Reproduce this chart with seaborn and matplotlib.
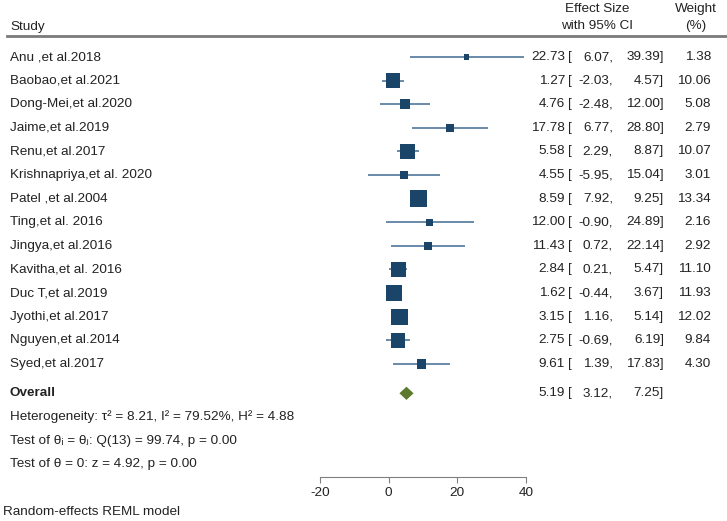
import numpy as np
import seaborn as sns
import pandas as pd
from matplotlib import pyplot as plt
from matplotlib import transforms

studies = ['Anu ,et al.2018', 'Baobao,et al.2021', 'Dong-Mei,et al.2020', 'Jaime,et al.2019',
           'Renu,et al.2017', 'Krishnapriya,et al. 2020', 'Patel ,et al.2004', 'Ting,et al. 2016',
           'Jingya,et al.2016', 'Kavitha,et al. 2016', 'Duc T,et al.2019', 'Jyothi,et al.2017',
           'Nguyen,et al.2014', 'Syed,et al.2017']
effect = [22.73, 1.27, 4.76, 17.78, 5.58, 4.55, 8.59, 12.00, 11.43, 2.84, 1.62, 3.15, 2.75, 9.61]
lower = [6.07, -2.03, -2.48, 6.77, 2.29, -5.95, 7.92, -0.90, 0.72, 0.21, -0.44, 1.16, -0.69, 1.39]
upper = [39.39, 4.57, 12.00, 28.80, 8.87, 15.04, 9.25, 24.89, 22.14, 5.47, 3.67, 5.14, 6.19, 17.83]
weight = [1.38, 10.06, 5.08, 2.79, 10.07, 3.01, 13.34, 2.16, 2.92, 11.10, 11.93, 12.02, 9.84, 4.30]
overall = [5.19, 3.12, 7.25]
xticks = [-20, 0, 20, 40]
stats_lines = ['Heterogeneity: \u03c4\u00b2 = 8.21, I\u00b2 = 79.52%, H\u00b2 = 4.88',
               'Test of \u03b8\u1d62 = \u03b8\u2c7c: Q(13) = 99.74, p = 0.00',
               'Test of \u03b8 = 0: z = 4.92, p = 0.00']
footnote = 'Random-effects REML model'

W, H = 727, 521
SQ = '#1b4469'
CI = '#6a8aa8'
TXT = '#222222'

plt.rcParams['font.family'] = ['Liberation Sans', 'DejaVu Sans']
plt.rcParams['font.size'] = 9.7
plt.rcParams['axes.unicode_minus'] = False

df = pd.DataFrame({'study': studies, 'es': effect, 'lo': lower, 'hi': upper, 'w': weight})
df['row'] = np.arange(len(df))

fig = plt.figure(figsize=(W / 100, H / 100), dpi=100)
ax = fig.add_axes([0, 0, 1, 1])
ax.patch.set_alpha(0)

# pixel layout: -20 -> 320px, 40 -> 526px ; row 0 at 57px, 23.6px per row
upp = 60 / 206.
ax.set_xlim(-20 - 320 * upp, 40 + (W - 526) * upp)
rs = 23.6
ax.set_ylim((H - 57) / rs, -57 / rs)

ax.hlines(df['row'], df['lo'], df['hi'], color=CI, lw=1.4, zorder=1)
sns.scatterplot(data=df, x='es', y='row', size='w', sizes=(0, 150), size_norm=(0, 13.34),
                marker='s', color=SQ, edgecolor=SQ, linewidth=0, legend=False, ax=ax, zorder=2)

orow = 14.25
ax.fill([overall[1], overall[0], overall[2], overall[0]],
        [orow, orow - 0.28, orow, orow + 0.28], color='#5b7a2f', lw=0, zorder=2)

for s in ['top', 'right', 'left']:
    ax.spines[s].set_visible(False)
ax.spines['bottom'].set_position(('data', 17.8))
ax.spines['bottom'].set_bounds(-20, 40)
ax.spines['bottom'].set_color('#808080')
ax.set_xticks(xticks)
ax.set_yticks([])
ax.tick_params(axis='x', direction='out', length=4, color='#808080', labelcolor=TXT, pad=3)
ax.set_xlabel('')
ax.set_ylabel('')

tr = transforms.blended_transform_factory(fig.transFigure, ax.transData)
def px(x):
    return x / W

# header
ax.text(px(10), -1.27, 'Study', transform=tr, va='center', ha='left', color=TXT)
ax.text(px(597), -2.02, 'Effect Size', transform=tr, va='center', ha='center', color=TXT)
ax.text(px(597), -1.31, 'with 95% CI', transform=tr, va='center', ha='center', color=TXT)
ax.text(px(696), -2.02, 'Weight', transform=tr, va='center', ha='center', color=TXT)
ax.text(px(696), -1.31, '(%)', transform=tr, va='center', ha='center', color=TXT)
ax.plot([px(7), px(727)], [-0.89, -0.89], transform=tr, color='#7a7a7a', lw=2, clip_on=False)

def row_text(r, e, lo, hi):
    ax.text(px(565), r, f'{e:.2f}', transform=tr, va='center', ha='right', color=TXT)
    ax.text(px(568), r, '[', transform=tr, va='center', ha='left', color=TXT)
    ax.text(px(613), r, f'{lo:.2f},', transform=tr, va='center', ha='right', color=TXT)
    ax.text(px(664), r, f'{hi:.2f}]', transform=tr, va='center', ha='right', color=TXT)

for i, rw in df.iterrows():
    ax.text(px(10), rw['row'], rw['study'], transform=tr, va='center', ha='left', color=TXT)
    row_text(rw['row'], rw['es'], rw['lo'], rw['hi'])
    ax.text(px(711), rw['row'], f"{rw['w']:.2f}", transform=tr, va='center', ha='right', color=TXT)

ax.text(px(10), orow, 'Overall', transform=tr, va='center', ha='left', color=TXT, fontweight='bold')
row_text(orow, *overall)

for k, line in enumerate(stats_lines):
    ax.text(px(10), orow + 1 + k, line, transform=tr, va='center', ha='left', color=TXT)
ax.text(px(3), 19.3, footnote, transform=tr, va='center', ha='left', color=TXT)

plt.savefig('out.png', dpi=100, facecolor='white')
